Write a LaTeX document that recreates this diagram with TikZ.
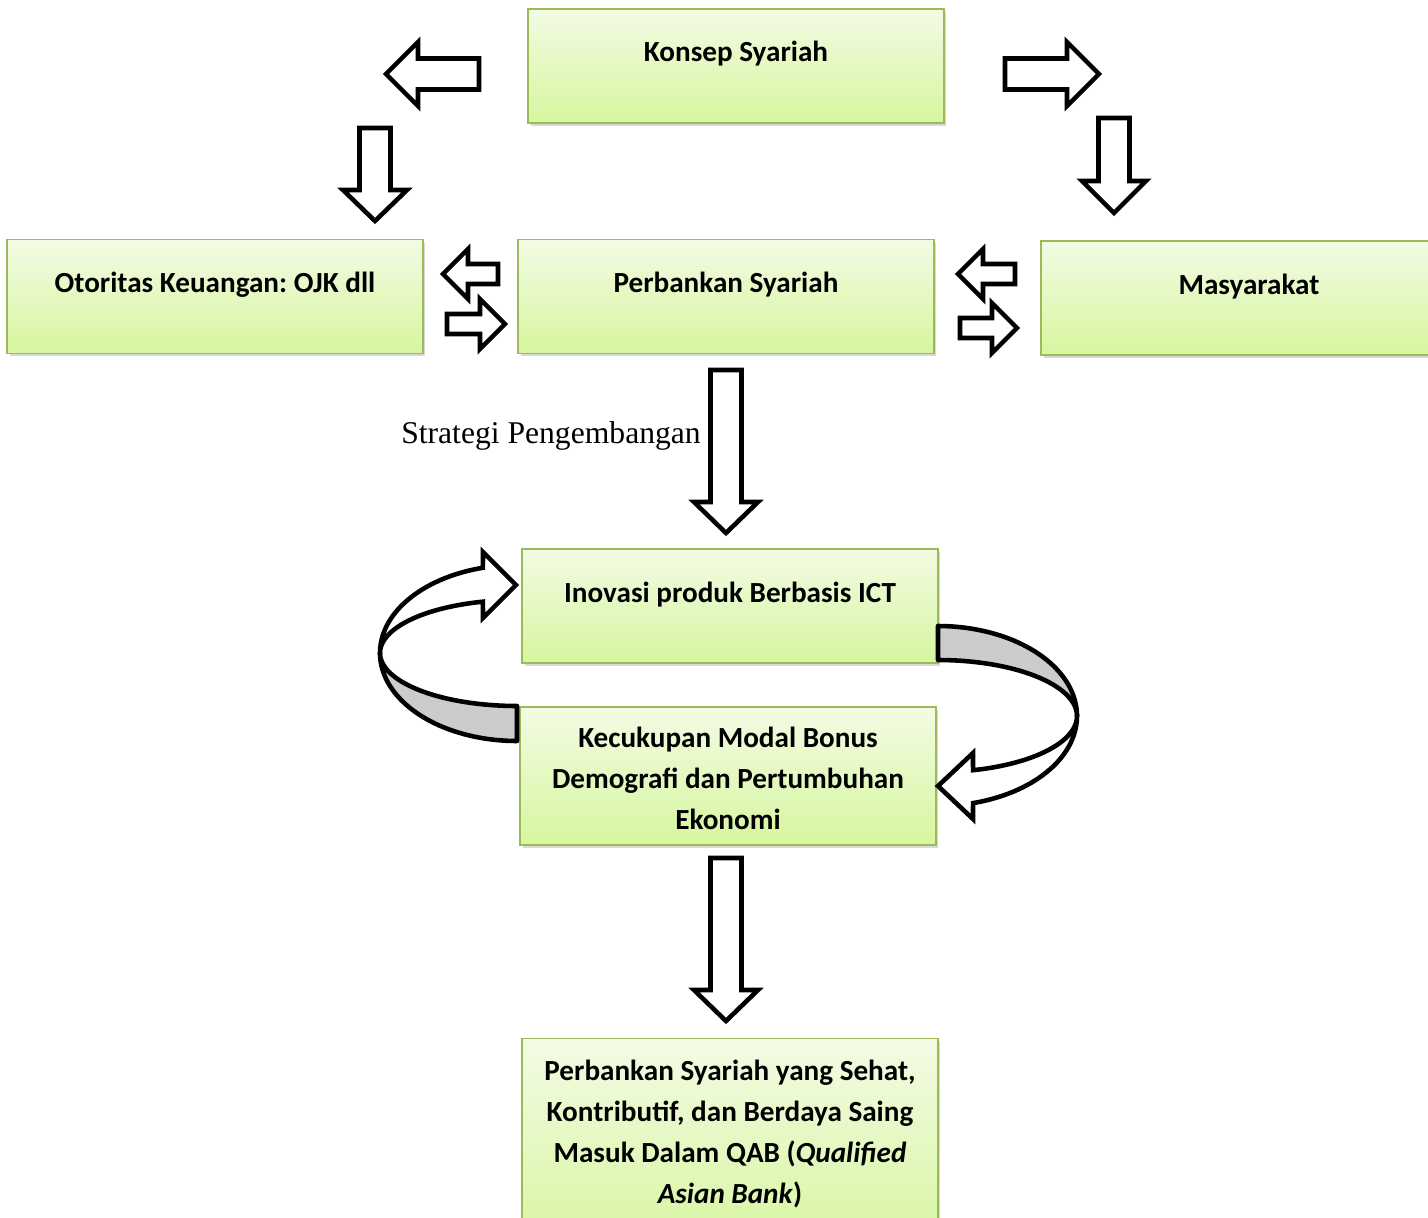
\documentclass[tikz,border=0pt]{standalone}
\usepackage{fontspec}
\setmainfont{Carlito}
\newfontfamily\serifnote{Liberation Serif}
\usepackage{xcolor}
\usepackage{tikz}
\usetikzlibrary{shadows}
\definecolor{boxtop}{RGB}{243,251,228}
\definecolor{boxbot}{RGB}{214,246,158}
\definecolor{boxline}{RGB}{155,187,89}
\frenchspacing

\tikzset{
  greenbox/.style={rectangle, draw=boxline, line width=0.9pt, top color=boxtop, bottom color=boxbot,
    minimum width=8.32cm, minimum height=2.28cm, inner sep=0pt,
    drop shadow={opacity=0.3, shadow xshift=0.05cm, shadow yshift=-0.06cm}},
  boxtext/.style={font=\fontsize{16.6}{23.3}\selectfont\bfseries, align=center, inner sep=0pt},
  hollow/.style={draw=black, fill=white, line width=2.6pt, line join=miter},
  band/.style={draw=black, fill=gray!40, line width=2.6pt, line join=round}
}

\begin{document}
\begin{tikzpicture}[x=0.02cm, y=-0.02cm]
  \useasboundingbox (0,0) rectangle (1428,1218);

  \node[greenbox] (konsep) at (736,66) {};
  \node[greenbox] (otoritas) at (215,296.5) {};
  \node[greenbox] (perbankan) at (726,296.5) {};
  \node[greenbox] (masyarakat) at (1249,298) {};
  \node[greenbox] (inovasi) at (730,606) {};
  \node[greenbox, minimum height=2.76cm] (kecukupan) at (728,776) {};
  \node[greenbox, minimum height=4.3cm] (sehat) at (730,1146) {};

  \node[boxtext] (konsepT) at (736,54) {Konsep Syariah};
  \node[boxtext] (otoritasT) at (215,285) {Otoritas Keuangan: OJK dll};
  \node[boxtext] (perbankanT) at (726,285) {Perbankan Syariah};
  \node[boxtext] (masyarakatT) at (1249,287) {Masyarakat};
  \node[boxtext] (inovasiT) at (730,595) {Inovasi produk Berbasis ICT};
  \node[boxtext] (kecukupanT) at (728,778) {Kecukupan Modal Bonus\\Demografi dan Pertumbuhan\\Ekonomi};
  \node[boxtext] (sehatT) at (730,1134) {Perbankan Syariah yang Sehat,\\Kontributif, dan Berdaya Saing\\Masuk Dalam QAB (\textit{Qualified}\\\textit{Asian Bank})};

  \node[font=\serifnote\fontsize{18}{21}\selectfont, inner sep=0pt] (strategi) at (551,436) {Strategi Pengembangan};

  \draw[hollow] (479,58.5) -- (418,58.5) -- (418,42) -- (386,74) -- (418,106) -- (418,89.5) -- (479,89.5) -- cycle;
  \draw[hollow] (1005,58.5) -- (1067,58.5) -- (1067,42) -- (1099,74) -- (1067,106) -- (1067,89.5) -- (1005,89.5) -- cycle;

  \foreach \cx/\top/\base/\tip in {375/128/190/221, 1114/118/181/213, 726/370/502/533, 726/858/990/1021}
    \draw[hollow] (\cx-15.5,\top) -- (\cx+15.5,\top) -- (\cx+15.5,\base) -- (\cx+32,\base)
      -- (\cx,\tip) -- (\cx-32,\base) -- (\cx-15.5,\base) -- cycle;

  \draw[hollow] (498,264) -- (468,264) -- (468,249) -- (443,274) -- (468,299) -- (468,284) -- (498,284) -- cycle;
  \draw[hollow] (447,314) -- (480,314) -- (480,299) -- (505,324) -- (480,349) -- (480,334) -- (447,334) -- cycle;
  \draw[hollow] (1015,264) -- (983,264) -- (983,249) -- (958,274) -- (983,299) -- (983,284) -- (1015,284) -- cycle;
  \draw[hollow] (960,318) -- (992,318) -- (992,303) -- (1017,328) -- (992,353) -- (992,338) -- (960,338) -- cycle;

  \draw[band] plot[domain=180:270, samples=40] ({517+137*cos(\x)},{653-88*sin(\x)})
    -- plot[domain=270:180, samples=40] ({517+137*cos(\x)},{653-53*sin(\x)}) -- cycle;
  \draw[hollow] plot[domain=180:104.4, samples=40] ({517+137*cos(\x)},{653-88*sin(\x)})
    -- (483,552) -- (516,585) -- (483,618)
    -- plot[domain=104.4:180, samples=40] ({517+137*cos(\x)},{653-53*sin(\x)}) -- cycle;

  \draw[band] plot[domain=90:0, samples=40] ({938+139*cos(\x)},{716-90*sin(\x)})
    -- plot[domain=0:90, samples=40] ({938+139*cos(\x)},{716-56*sin(\x)}) -- cycle;
  \draw[hollow] plot[domain=0:-75.4, samples=40] ({938+139*cos(\x)},{716-90*sin(\x)})
    -- (973,819) -- (938,786) -- (973,753)
    -- plot[domain=-75.4:0, samples=40] ({938+139*cos(\x)},{716-56*sin(\x)}) -- cycle;
\end{tikzpicture}
\end{document}
